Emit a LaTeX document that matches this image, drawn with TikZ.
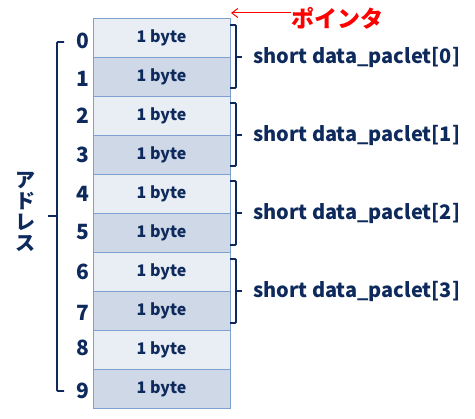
\documentclass[tikz,border=0pt]{standalone}
\usepackage{fontspec}
\setmainfont{Noto Sans CJK JP}
\usepackage{xcolor}
\usepackage{tikz}
\usetikzlibrary{arrows.meta,positioning,calc}

\definecolor{navy}{HTML}{0E2A5C}
\definecolor{cellA}{HTML}{E9EDF4}
\definecolor{cellB}{HTML}{CFD8E6}
\definecolor{cellline}{HTML}{7FA1D1}
\definecolor{ptrred}{HTML}{FF0000}

\begin{document}
\begin{tikzpicture}[
  x=1pt, y=1pt,
  cell/.style={draw=cellline, line width=0.8pt, minimum width=137pt, minimum height=39pt, outer sep=0pt, inner sep=0pt,
    font=\fontsize{16}{16}\selectfont\bfseries, text=navy},
  lt/.style={cell, fill=cellA},
  dk/.style={cell, fill=cellB},
  num/.style={font=\fontsize{21}{21}\selectfont\bfseries, text=navy, anchor=east, inner sep=0pt},
  lbl/.style={font=\fontsize{20}{20}\selectfont\bfseries, text=navy, anchor=west, inner sep=0pt},
  brk/.style={draw=navy, line width=1.8pt, rounded corners=1pt},
  arr/.style={-{Straight Barb[length=6pt,width=9pt]}, draw=ptrred, line width=1pt}
]
\useasboundingbox (0,0) rectangle (475,-419);

% memory cells
\node[lt] (c0) at (161.5,-37.5) {1 byte};
\node[dk, below=0pt of c0] (c1) {1 byte};
\node[lt, below=0pt of c1] (c2) {1 byte};
\node[dk, below=0pt of c2] (c3) {1 byte};
\node[lt, below=0pt of c3] (c4) {1 byte};
\node[dk, below=0pt of c4] (c5) {1 byte};
\node[lt, below=0pt of c5] (c6) {1 byte};
\node[dk, below=0pt of c6] (c7) {1 byte};
\node[lt, below=0pt of c7] (c8) {1 byte};
\node[dk, below=0pt of c8] (c9) {1 byte};

% addresses
\node[num, left=4pt of c0, yshift=-3pt] (n0) {0};
\node[num, left=4pt of c1, yshift=-2pt] (n1) {1};
\node[num, left=4pt of c2] (n2) {2};
\node[num, left=4pt of c3] (n3) {3};
\node[num, left=4pt of c4] (n4) {4};
\node[num, left=4pt of c5] (n5) {5};
\node[num, left=4pt of c6] (n6) {6};
\node[num, left=4pt of c7, yshift=-2pt] (n7) {7};
\node[num, left=4pt of c8, yshift=2pt] (n8) {8};
\node[num, left=4pt of c9, yshift=-2pt] (n9) {9};

% address bracket
\draw[brk] (64,-42) -- (57,-42) -- (57,-391) -- (64,-391);
\draw[brk] (57,-216) -- (48,-216);
\node[font=\fontsize{20}{21}\selectfont\bfseries, text=navy, align=center, inner sep=0pt] (adr) at (26,-212) {ア\\ド\\レ\\ス};

% short braces
\draw[brk] (230,-25) -- (236,-25) -- (236,-88) -- (230,-88);
\draw[brk] (230,-103) -- (236,-103) -- (236,-166) -- (230,-166);
\draw[brk] (230,-181) -- (236,-181) -- (236,-245) -- (230,-245);
\draw[brk] (230,-259) -- (236,-259) -- (236,-323) -- (230,-323);
\coordinate (b0) at (242,-57);
\coordinate (b1) at (242,-135);
\coordinate (b2) at (242,-213);
\coordinate (b3) at (242,-291);
\draw[brk] (236,-57) -- (b0);
\draw[brk] (236,-135) -- (b1);
\draw[brk] (236,-213) -- (b2);
\draw[brk] (236,-291) -- (b3);
\node[lbl, right=11pt of b0] (s0) {short data\_paclet[0]};
\node[lbl, right=11pt of b1] (s1) {short data\_paclet[1]};
\node[lbl, right=11pt of b2] (s2) {short data\_paclet[2]};
\node[lbl, right=11pt of b3] (s3) {short data\_paclet[3]};

% pointer
\node[font=\fontsize{23}{23}\selectfont\bfseries, text=ptrred, anchor=west, inner sep=0pt] (ptr) at (291,-18) {ポインタ};
\coordinate (tip) at (231,-13);
\draw[arr] (ptr.west |- tip) -- (tip);
\end{tikzpicture}
\end{document}
